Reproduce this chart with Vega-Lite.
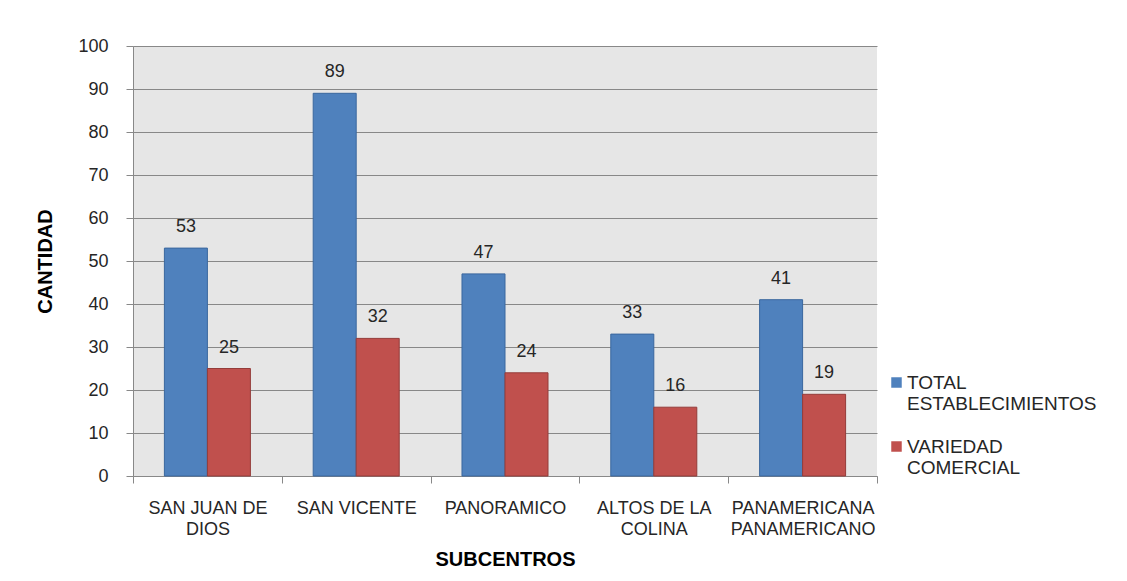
{
  "$schema": "https://vega.github.io/schema/vega-lite/v6.json",
  "width": 744,
  "height": 430,
  "autosize": {"type": "none"},
  "padding": {"left": 133, "top": 46, "right": 250, "bottom": 105},
  "background": "white",
  "config": {
    "view": {"fill": "#E6E6E6", "stroke": null},
    "font": "Liberation Sans"
  },
  "data": {
    "values": [
      {"subcentro": "SAN JUAN DE DIOS", "serie": "TOTAL ESTABLECIMIENTOS", "valor": 53},
      {"subcentro": "SAN JUAN DE DIOS", "serie": "VARIEDAD COMERCIAL", "valor": 25},
      {"subcentro": "SAN VICENTE", "serie": "TOTAL ESTABLECIMIENTOS", "valor": 89},
      {"subcentro": "SAN VICENTE", "serie": "VARIEDAD COMERCIAL", "valor": 32},
      {"subcentro": "PANORAMICO", "serie": "TOTAL ESTABLECIMIENTOS", "valor": 47},
      {"subcentro": "PANORAMICO", "serie": "VARIEDAD COMERCIAL", "valor": 24},
      {"subcentro": "ALTOS DE LA COLINA", "serie": "TOTAL ESTABLECIMIENTOS", "valor": 33},
      {"subcentro": "ALTOS DE LA COLINA", "serie": "VARIEDAD COMERCIAL", "valor": 16},
      {"subcentro": "PANAMERICANA PANAMERICANO", "serie": "TOTAL ESTABLECIMIENTOS", "valor": 41},
      {"subcentro": "PANAMERICANA PANAMERICANO", "serie": "VARIEDAD COMERCIAL", "valor": 19}
    ]
  },
  "encoding": {
    "x": {
      "field": "subcentro",
      "type": "nominal",
      "sort": null,
      "scale": {"paddingInner": 0, "paddingOuter": 0},
      "axis": {
        "title": "SUBCENTROS",
        "titleFontSize": 20,
        "titleFontWeight": "bold",
        "titleColor": "#000000",
        "titleY": 83,
        "titleBaseline": "middle",
        "labelAngle": 0,
        "labelFontSize": 18,
        "labelColor": "#262626",
        "labelBaseline": "top",
        "labelLineHeight": 21,
        "labelPadding": 16,
        "tickSize": 7,
        "tickBand": "extent",
        "tickColor": "#888888",
        "domainColor": "#888888",
        "grid": false,
        "labelExpr": "datum.value == 'SAN JUAN DE DIOS' ? ['SAN JUAN DE', 'DIOS'] : datum.value == 'ALTOS DE LA COLINA' ? ['ALTOS DE LA', 'COLINA'] : datum.value == 'PANAMERICANA PANAMERICANO' ? ['PANAMERICANA', 'PANAMERICANO'] : datum.value"
      }
    },
    "xOffset": {
      "field": "serie",
      "type": "nominal",
      "sort": ["TOTAL ESTABLECIMIENTOS", "VARIEDAD COMERCIAL"],
      "scale": {"paddingInner": 0, "paddingOuter": 0.73}
    },
    "y": {
      "field": "valor",
      "type": "quantitative",
      "scale": {"domain": [0, 100], "nice": false},
      "axis": {
        "title": "CANTIDAD",
        "titleFontSize": 20,
        "titleFontWeight": "bold",
        "titleColor": "#000000",
        "titleX": -88,
        "titleY": 215,
        "titleAngle": 270,
        "titleAlign": "center",
        "titleBaseline": "middle",
        "values": [0, 10, 20, 30, 40, 50, 60, 70, 80, 90, 100],
        "labelFontSize": 18,
        "labelColor": "#262626",
        "labelPadding": 18,
        "tickSize": 7,
        "tickColor": "#888888",
        "domainColor": "#888888",
        "gridColor": "#888888",
        "gridWidth": 1
      }
    }
  },
  "layer": [
    {
      "mark": {"type": "bar", "strokeWidth": 1},
      "encoding": {
        "color": {
          "field": "serie",
          "type": "nominal",
          "scale": {"domain": ["TOTAL ESTABLECIMIENTOS", "VARIEDAD COMERCIAL"], "range": ["#4F81BD", "#C0504D"]},
          "legend": {
            "title": null,
            "orient": "none",
            "legendX": 754,
            "legendY": 327,
            "symbolType": "square",
            "symbolSize": 110,
            "symbolStrokeWidth": 0,
            "labelFontSize": 19,
            "labelColor": "#262626",
            "labelLimit": 300,
            "labelOffset": 1,
            "labelBaseline": "top",
            "labelLineHeight": 23,
            "rowPadding": 23,
            "labelExpr": "split(datum.label, ' ')",
            "encode": {"labels": {"update": {"dy": {"value": -9}}}}
          }
        },
        "stroke": {
          "field": "serie",
          "type": "nominal",
          "scale": {"domain": ["TOTAL ESTABLECIMIENTOS", "VARIEDAD COMERCIAL"], "range": ["#3A679E", "#943C3A"]},
          "legend": null
        }
      }
    },
    {
      "mark": {"type": "text", "dy": -21, "fontSize": 18, "color": "#262626", "baseline": "middle"},
      "encoding": {
        "text": {"field": "valor", "type": "quantitative"}
      }
    }
  ]
}
